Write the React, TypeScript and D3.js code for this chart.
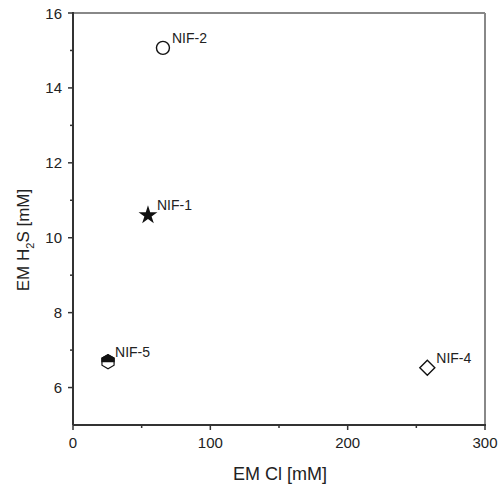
import React from "react";
import * as d3 from "d3";

const labels = ["NIF-1", "NIF-2", "NIF-4", "NIF-5"];
const clValues = [54.6, 65.5, 258, 25.5];
const h2sValues = [10.6, 15.07, 6.53, 6.69];
const markerTypes = ["star", "circle", "diamond", "hexagon"];
const xTicks = [0, 100, 200, 300];
const xMinorTicks = [50, 150, 250];
const yTicks = [6, 8, 10, 12, 14, 16];
const yMinorTicks = [7, 9, 11, 13, 15];

const W = 502;
const H = 488;
const M = { left: 73, right: 485, top: 13, bottom: 425 };

export default function App() {
  const x = d3.scaleLinear().domain([0, 300]).range([M.left, M.right]);
  const y = d3.scaleLinear().domain([5, 16]).range([M.bottom, M.top]);
  const font = "Arial, 'Liberation Sans', sans-serif";
  const dark = "#333";

  const marker = (type: string, cx: number, cy: number, key: number) => {
    if (type === "circle") {
      return <circle key={key} cx={cx} cy={cy} r={6.5} fill="white" stroke="#111" strokeWidth={1.4} />;
    }
    if (type === "star") {
      const p = d3.symbol(d3.symbolStar, 110)() as string;
      return <path key={key} d={p} transform={`translate(${cx},${cy})`} fill="#111" />;
    }
    if (type === "diamond") {
      const r = 7.5;
      return (
        <path
          key={key}
          d={`M${cx},${cy - r}L${cx + r},${cy}L${cx},${cy + r}L${cx - r},${cy}Z`}
          fill="white"
          stroke="#111"
          strokeWidth={1.4}
        />
      );
    }
    // hexagon, pointy top, top half filled
    const r = 7;
    const pts = d3.range(6).map((i) => {
      const a = (Math.PI / 3) * i - Math.PI / 2;
      return [cx + r * Math.cos(a), cy + r * Math.sin(a)];
    });
    const full = "M" + pts.map((p) => p.join(",")).join("L") + "Z";
    const w = r * Math.cos(Math.PI / 6);
    const top = `M${cx - w},${cy}L${pts[5].join(",")}L${pts[0].join(",")}L${pts[1].join(",")}L${cx + w},${cy}Z`;
    return (
      <g key={key}>
        <path d={full} fill="white" stroke="#111" strokeWidth={1.2} />
        <path d={top} fill="#111" stroke="#111" strokeWidth={1.2} />
      </g>
    );
  };

  return (
    <svg
      width={W}
      height={H}
      style={{ position: "absolute", left: 0, top: 0, background: "white" }}
      fontFamily={font}
    >
      <rect x={0} y={0} width={W} height={H} fill="white" />
      {/* frame top/right */}
      <line x1={M.left} x2={M.right} y1={M.top} y2={M.top} stroke="#888" strokeWidth={2} />
      <line x1={M.right} x2={M.right} y1={M.top} y2={M.bottom} stroke="#888" strokeWidth={2} />
      {/* axes */}
      <line x1={M.left} x2={M.right + 1} y1={M.bottom} y2={M.bottom} stroke={dark} strokeWidth={2} />
      <line x1={M.left} x2={M.left} y1={M.top - 1} y2={M.bottom} stroke={dark} strokeWidth={2} />
      {xTicks.map((t) => (
        <g key={"xt" + t}>
          <line x1={x(t)} x2={x(t)} y1={M.bottom} y2={M.bottom + 5} stroke={dark} strokeWidth={1.5} />
          <text x={x(t)} y={M.bottom + 23} textAnchor="middle" fontSize={15} fill="#222">
            {t}
          </text>
        </g>
      ))}
      {xMinorTicks.map((t) => (
        <line key={"xm" + t} x1={x(t)} x2={x(t)} y1={M.bottom} y2={M.bottom + 3} stroke={dark} strokeWidth={1.5} />
      ))}
      {yTicks.map((t) => (
        <g key={"yt" + t}>
          <line x1={M.left - 5} x2={M.left} y1={y(t)} y2={y(t)} stroke={dark} strokeWidth={1.5} />
          <text x={M.left - 11} y={y(t) + 5.5} textAnchor="end" fontSize={15} fill="#222">
            {t}
          </text>
        </g>
      ))}
      {yMinorTicks.map((t) => (
        <line key={"ym" + t} x1={M.left - 3} x2={M.left} y1={y(t)} y2={y(t)} stroke={dark} strokeWidth={1.5} />
      ))}
      <text x={280} y={480} textAnchor="middle" fontSize={18} fill="#222">
        EM Cl [mM]
      </text>
      <text transform="translate(29,240) rotate(-90)" textAnchor="middle" fontSize={17} fill="#222">
        EM H<tspan fontSize={11} dy={5}>2</tspan>
        <tspan dy={-5}>S [mM]</tspan>
      </text>
      {labels.map((l, i) => {
        const cx = x(clValues[i]);
        const cy = y(h2sValues[i]);
        return (
          <g key={l}>
            {marker(markerTypes[i], cx, cy, i)}
            <text x={cx + (markerTypes[i] === "hexagon" ? 7 : 9)} y={cy - 5} fontSize={14} fill="#222">
              {l}
            </text>
          </g>
        );
      })}
    </svg>
  );
}
